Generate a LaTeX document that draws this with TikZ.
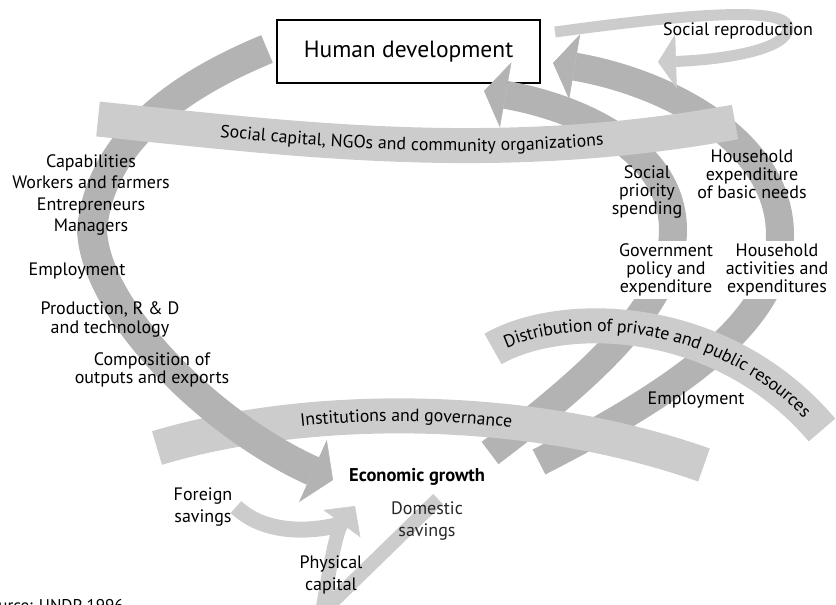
\documentclass[tikz,border=0pt]{standalone}
\usepackage{fontspec}
\setmainfont{PT Sans}
\usetikzlibrary{arrows.meta,decorations.text}
\definecolor{darkband}{HTML}{B3B3B3}
\definecolor{lightband}{HTML}{CCCCCC}
\begin{document}
\begin{tikzpicture}[x=1pt,y=-1pt,
  darkarc/.style={draw=darkband,line width=28pt},
  bigarc/.style={draw=darkband,line width=30pt},
  lightarc/.style={draw=lightband,line width=35pt},
  thinlight/.style={draw=lightband},
  darkhead/.style={-{Triangle[width=66pt,length=22pt,line width=0.5pt]}},
  lbl/.style={font=\fontsize{18}{18}\selectfont,align=center,inner sep=1pt,text=black},
  whitelbl/.style={lbl,fill=white,inner sep=3pt},
  curvtext/.style 2 args={decorate,decoration={text along path,text align={left indent=#1},raise=-5.5pt,text={|\fontsize{17.8}{18}\selectfont|#2}}}
]
\useasboundingbox (0,0) rectangle (836,605);

% box
\node[draw=black,line width=1.3pt,fill=white,minimum width=263pt,minimum height=63pt,
  font=\fontsize{23.5}{26}\selectfont] (hd) at (408.5,51.5) {Human development};

% arcs A and B
\draw[darkarc,darkhead] (490,453) .. controls (600,370) and (673,300) .. (673,230)
  .. controls (673,150) and (580,108) .. (484,91);
\draw[darkarc,darkhead] (539,462) .. controls (680,390) and (780,320) .. (780,235)
  .. controls (780,140) and (665,82) .. (553,63);

% institutions band
\draw[lightarc] (157,448) .. controls (300,405) and (520,400) .. (704,465);

% big left arrow
\draw[bigarc,-{Triangle[width=68pt,length=22pt,line width=0.5pt]}] (267,49)
  .. controls (180,85) and (100,140) .. (92,230)
  .. controls (95,310) and (210,425) .. (333,480);

% distribution band
\draw[lightarc] (493,349) .. controls (560,310) and (720,310) .. (822,430);

% social capital band
\draw[lightarc] (98,119) .. controls (300,140) and (500,165) .. (735,122);

% social reproduction loop
\draw[thinlight,line width=11pt,-{Triangle[width=54pt,length=18pt,line width=0.5pt]}]
  (555,32) .. controls (680,15) and (788,5) .. (788,28)
  .. controls (788,50) and (720,60) .. (658,62);

% savings
\draw[thinlight,line width=16pt] (236,507) .. controls (262,532) and (305,534) .. (342,524);
\draw[thinlight,line width=14pt,-{Triangle[width=46pt,length=22pt,line width=0.5pt]}]
  (438,499) -- (322,612) .. controls (328,580) and (335,533) .. (355,506);

% curved texts
\path[curvtext={123pt}{Social capital, NGOs and community organizations}]
  (98,119) .. controls (300,140) and (500,165) .. (735,122);
\path[curvtext={146pt}{Institutions and governance}]
  (157,448) .. controls (300,405) and (520,400) .. (704,465);
\path[curvtext={13pt}{Distribution of private and public resources}]
  (493,349) .. controls (560,310) and (720,310) .. (822,430);

% labels
\node[lbl,font=\fontsize{18}{21.5}\selectfont] (cap) at (91,195) {Capabilities\\Workers and farmers\\Entrepreneurs\\Managers};
\node[lbl] (emp1) at (77,271) {Employment};
\node[lbl,font=\fontsize{18}{19}\selectfont] (prod) at (110,319) {Production, R \& D\\and technology};
\node[lbl] (comp) at (152,370) {Composition of\\outputs and exports};
\node[lbl,font=\fontsize{18.5}{18}\selectfont\bfseries] (eg) at (417,477) {Economic growth};
\node[lbl,font=\fontsize{18}{22}\selectfont] (fs) at (203,507) {Foreign\\savings};
\node[lbl,font=\fontsize{18}{22}\selectfont,text=black!85] (ds) at (427,521) {Domestic\\savings};
\node[lbl,font=\fontsize{18}{22}\selectfont] (pc) at (331,575) {Physical\\capital};
\node[lbl] (sps) at (647,192) {Social\\priority\\spending};
\node[lbl] (hebn) at (752,174) {Household\\expenditure\\of basic needs};
\node[whitelbl] (gpe) at (666,270) {Government\\policy and\\expenditure};
\node[whitelbl] (hae) at (777,270) {Household\\activities and\\expenditures};
\node[lbl] (emp2) at (696,400) {Employment};
\node[lbl] (sr) at (738,31) {Social reproduction};
\node[lbl,anchor=base west,font=\fontsize{17}{18}\selectfont] (src) at (-21,611) {Source: UNDP 1996};
\end{tikzpicture}
\end{document}
